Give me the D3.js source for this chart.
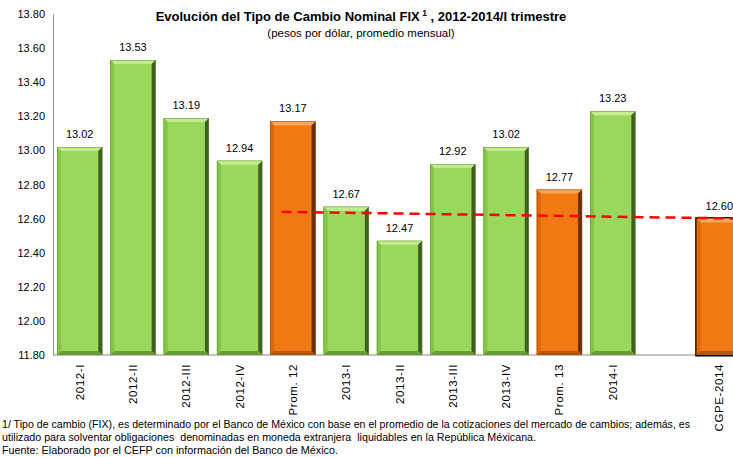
<!DOCTYPE html>
<html><head><meta charset="utf-8">
<script src="https://cdn.jsdelivr.net/npm/d3@7"></script>
<style>body{margin:0;background:#fff}svg{display:block}</style>
</head><body>
<svg id="c" width="733" height="457"></svg>
<script>
const categories = ["2012-I","2012-II","2012-III","2012-IV","Prom. 12","2013-I","2013-II","2013-III","2013-IV","Prom. 13","2014-I","","CGPE-2014"];
const values = [13.02,13.53,13.19,12.94,13.17,12.67,12.47,12.92,13.02,12.77,13.23,null,12.60];
const kinds = ["q","q","q","q","avg","q","q","q","q","avg","q","none","cgpe"];
const trendCats = ["Prom. 12","CGPE-2014"];
const trendValues = [12.64,12.60];
const yTicks = [11.8,12.0,12.2,12.4,12.6,12.8,13.0,13.2,13.4,13.6,13.8];

const svg = d3.select("#c");
const x = d3.scaleBand().domain(categories).range([53,746]).paddingInner(0.15).paddingOuter(0.075);
const y = d3.scaleLinear().domain([11.8,13.8]).range([355,14]);
const font = "'Liberation Sans', Arial, sans-serif";

// y axis
const ya = svg.append("g").attr("transform","translate(53,0)")
  .call(d3.axisLeft(y).tickValues(yTicks).tickFormat(d3.format(".2f")).tickSize(0).tickPadding(8));
ya.select(".domain").attr("stroke","#8c8c8c");
ya.selectAll("text").attr("font-family",font).attr("font-size","11px").attr("fill","#000");

// x axis
const xa = svg.append("g").attr("transform","translate(0,355)")
  .call(d3.axisBottom(x).tickSize(0).tickPadding(0));
xa.select(".domain").attr("stroke","#8c8c8c").attr("d","M53,0H733");
xa.selectAll("text").attr("font-family",font).attr("font-size","11.5px").attr("fill","#000").attr("letter-spacing","0.6px")
  .attr("transform","rotate(-90)").attr("text-anchor","end").attr("dx","-9px").attr("dy","0.35em").attr("x",0).attr("y",0);

const pal = {
  green:{main:"#9ad85b",top:"#c3ec8e",left:"#85c34a",right:"#3f5f1f",bottom:"#6c9c38",edge:"#5f8d30"},
  orange:{main:"#f27912",top:"#f9a75c",left:"#dc690b",right:"#6a2f04",bottom:"#b65708",edge:"#8a4006"}
};

const data = categories.map((c,i)=>({c,v:values[i],k:kinds[i]})).filter(d=>d.v!==null);
const bars = svg.append("g");
data.forEach(d=>{
  const p = d.k==="q"?pal.green:pal.orange;
  const x0 = x(d.c), w = x.bandwidth(), y0 = y(d.v), h = y(11.8)-y0, b = 4;
  const g = bars.append("g");
  if(d.k==="cgpe"){
    g.append("rect").attr("x",x0-1.5).attr("y",y0-1.5).attr("width",w+3).attr("height",h+3).attr("fill","#000");
  }
  g.append("rect").attr("x",x0).attr("y",y0).attr("width",w).attr("height",h).attr("fill",p.main);
  const poly = (pts,f)=>g.append("polygon").attr("points",pts.map(q=>q.join(",")).join(" ")).attr("fill",f);
  poly([[x0,y0],[x0+w,y0],[x0+w-b,y0+b],[x0+b,y0+b]],p.top);
  poly([[x0,y0],[x0+b,y0+b],[x0+b,y0+h-b],[x0,y0+h]],p.left);
  poly([[x0+w,y0],[x0+w,y0+h],[x0+w-b,y0+h-b],[x0+w-b,y0+b]],p.right);
  poly([[x0,y0+h],[x0+b,y0+h-b],[x0+w-b,y0+h-b],[x0+w,y0+h]],p.bottom);
  if(d.k!=="cgpe") g.append("rect").attr("x",x0+0.25).attr("y",y0+0.25).attr("width",w-0.5).attr("height",h-0.5)
    .attr("fill","none").attr("stroke",p.edge).attr("stroke-width",0.5);
  svg.append("text").attr("x",x0+w/2).attr("y",y0-9).attr("text-anchor","middle")
    .attr("font-family",font).attr("font-size","11px").attr("fill","#000").text(d.v.toFixed(2));
});

// trend line
const tx0 = x(trendCats[0]) + x.bandwidth()*0.25;
const tx1 = x(trendCats[1]) + x.bandwidth();
svg.append("line").attr("x1",tx0).attr("y1",y(trendValues[0])).attr("x2",tx1).attr("y2",y(trendValues[1]))
  .attr("stroke","#ff0000").attr("stroke-width",2.5).attr("stroke-dasharray","10,6");

// title
const t = svg.append("text").attr("x",361).attr("y",21).attr("text-anchor","middle")
  .attr("font-family",font).attr("font-size","13px").attr("font-weight","bold").attr("fill","#000");
t.append("tspan").text("Evolución del Tipo de Cambio Nominal FIX");
t.append("tspan").attr("font-size","8.5px").attr("dy","-5").text(" 1");
t.append("tspan").attr("dy","5").text(" , 2012-2014/I trimestre");
svg.append("text").attr("x",361).attr("y",37).attr("text-anchor","middle")
  .attr("font-family",font).attr("font-size","11.5px").attr("fill","#000").text("(pesos por dólar, promedio mensual)");

// footnotes
const notes = [
  ["1/ Tipo de cambio (FIX), es determinado por el Banco de México con base en el promedio de la cotizaciones del mercado de cambios; además, es",428,688],
  ["utilizado para solventar obligaciones  denominadas en moneda extranjera  liquidables en la República Méxicana.",441,534],
  ["Fuente: Elaborado por el CEFP con información del Banco de México.",454,336]
];
notes.forEach(n=>svg.append("text").attr("x",2).attr("y",n[1]).attr("font-family",font).attr("font-size","10px")
  .attr("fill","#000").attr("textLength",n[2]).attr("lengthAdjust","spacingAndGlyphs").attr("xml:space","preserve").text(n[0]));
</script>
</body></html>
